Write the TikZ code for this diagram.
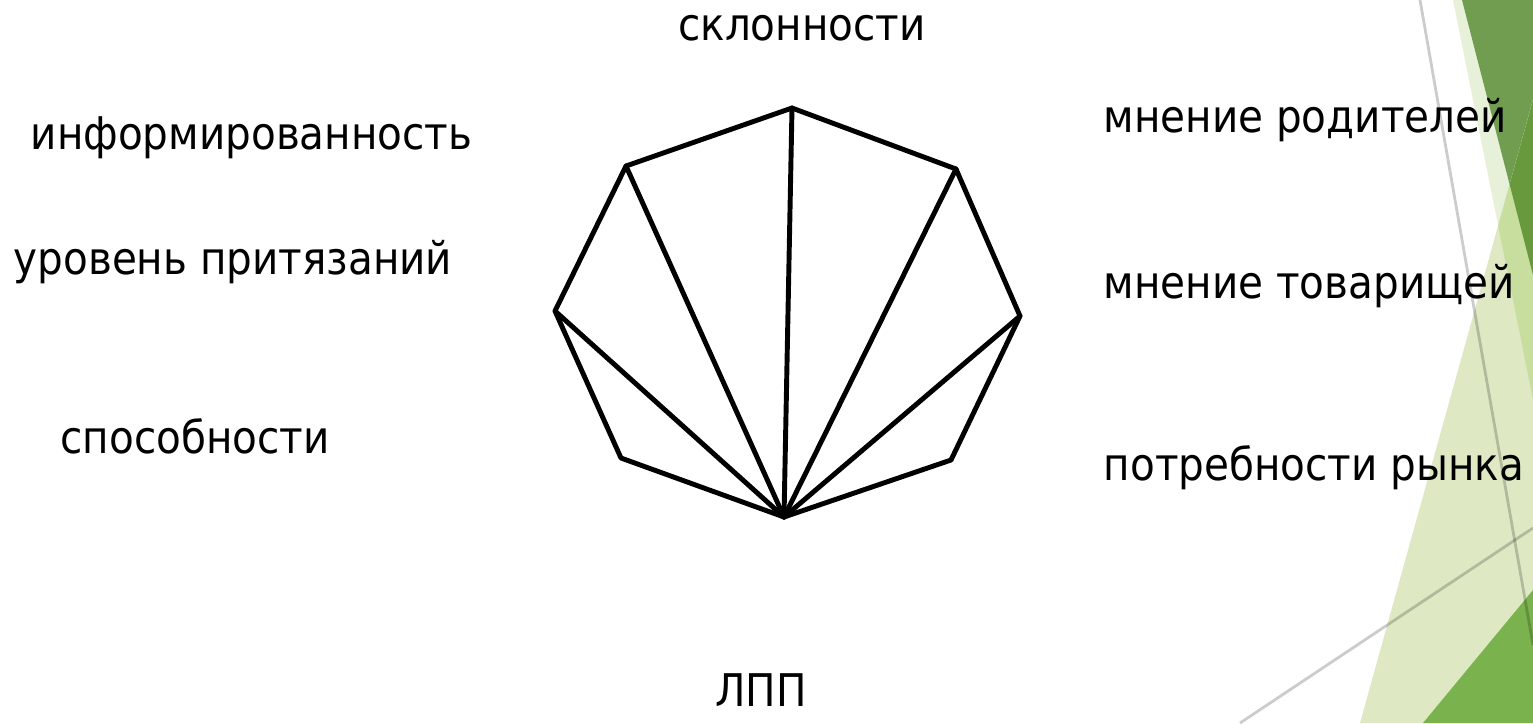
\documentclass[tikz,border=0pt]{standalone}
\usepackage{fontspec}
\setmainfont[FakeStretch=0.9]{DejaVu Sans}
\definecolor{palestrip}{HTML}{E7F0D8}
\definecolor{darkgreen}{HTML}{709D50}
\definecolor{palegreen}{HTML}{DEE9C4}
\definecolor{limegreen}{HTML}{C8DE9F}
\definecolor{midgreen}{HTML}{68993C}
\definecolor{brightgreen}{HTML}{7AB34E}
\tikzset{
  lbl/.style={inner sep=0pt, font=\fontsize{12.8pt}{15pt}\selectfont, text=black},
  edge/.style={line width=1.4pt, line join=round, line cap=round},
  deco/.style={line width=0.8pt, draw=black, draw opacity=0.2},
}
\begin{document}
\begin{tikzpicture}[x=0.01cm, y=-0.01cm]
\useasboundingbox (0,0) rectangle (1533,723);
\fill[white] (0,0) rectangle (1533,723);
% background decoration
\fill[palestrip] (1453,0) -- (1533,0) -- (1533,400) -- cycle;
\fill[darkgreen] (1462,0) -- (1533,0) -- (1533,275) -- cycle;
\fill[palegreen] (1360,723) -- (1533,100) -- (1533,723) -- cycle;
\begin{scope}
  \clip (1453,0) -- (1533,0) -- (1533,400) -- cycle;
  \fill[limegreen] (1360,723) -- (1533,100) -- (1533,723) -- cycle;
\end{scope}
\begin{scope}
  \clip (1462,0) -- (1533,0) -- (1533,275) -- cycle;
  \fill[midgreen] (1360,723) -- (1533,100) -- (1533,723) -- cycle;
\end{scope}
\fill[brightgreen] (1423,723) -- (1533,590) -- (1533,723) -- cycle;
\coordinate (g1a) at (1420,0);
\coordinate (g1b) at (1533,645);
\coordinate (g2a) at (1240,723);
\coordinate (g2b) at (1533,528);
\draw[deco] (g1a) -- (g1b);
\draw[deco] (g2a) -- (g2b);
% octagon
\coordinate (T) at (792,108);
\coordinate (UL) at (626,166);
\coordinate (L) at (555,311);
\coordinate (LL) at (621,458);
\coordinate (B) at (784,517);
\coordinate (LR) at (951,460);
\coordinate (R) at (1020,316);
\coordinate (UR) at (956,169);
\draw[edge] (T) -- (UR) -- (R) -- (LR) -- (B) -- (LL) -- (L) -- (UL) -- cycle;
\draw[edge] (B) -- (T);
\draw[edge] (B) -- (UL);
\draw[edge] (B) -- (L);
\draw[edge] (B) -- (UR);
\draw[edge] (B) -- (R);
% labels
\node[lbl, anchor=base] (sk) at (802,40) {склонности};
\node[lbl, anchor=base west] (inf) at (30,149) {информированность};
\node[lbl, anchor=base west] (ur) at (13,274) {уровень притязаний};
\node[lbl, anchor=base west] (sp) at (60,453) {способности};
\node[lbl, anchor=base west] (mr) at (1103,132) {мнение родителей};
\node[lbl, anchor=base west] (mt) at (1103,298) {мнение товарищей};
\node[lbl, anchor=base west] (pr) at (1103,480) {потребности рынка};
\node[lbl, anchor=base] (lpp) at (761,706) {ЛПП};
\end{tikzpicture}
\end{document}
